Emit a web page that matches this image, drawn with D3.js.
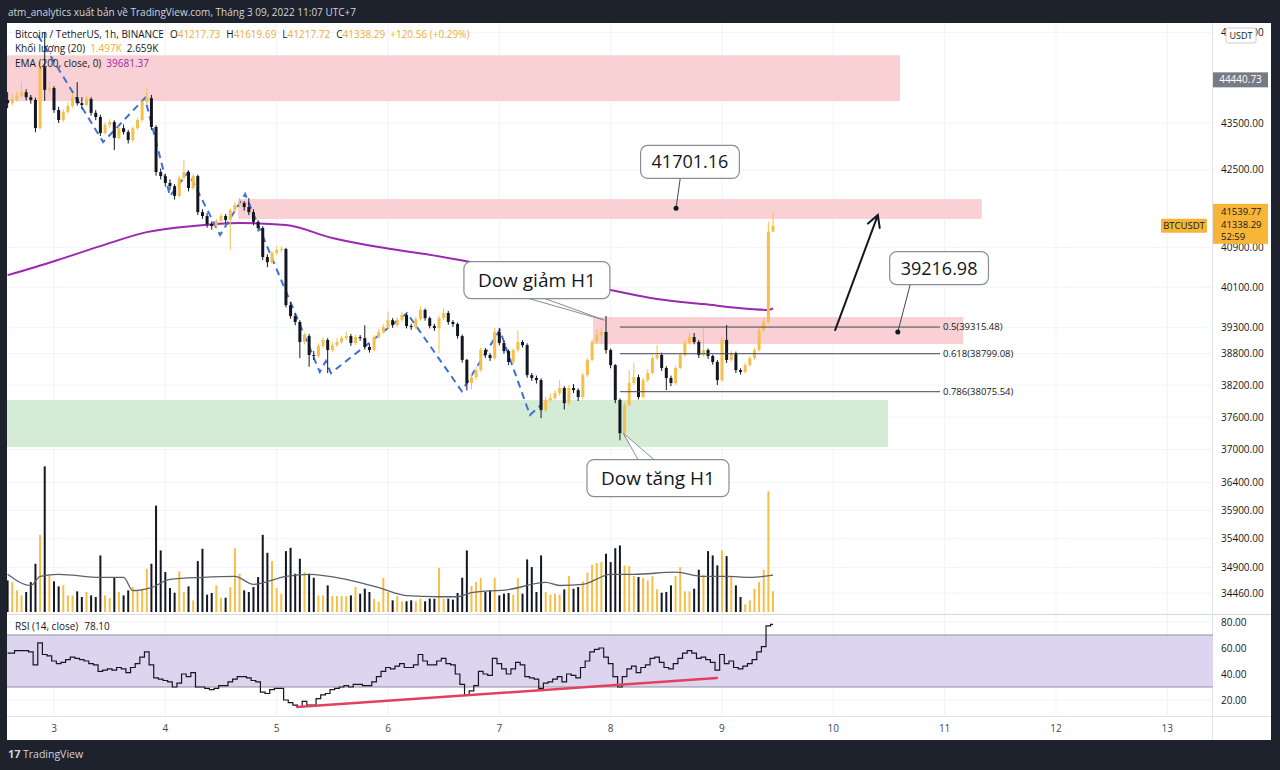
<!DOCTYPE html>
<html>
<head>
<meta charset="utf-8">
<script src="https://cdn.jsdelivr.net/npm/d3@7"></script>
<style>
  body { margin: 0; background: #1e222d; }
  svg { display: block; font-family: "Open Sans", "Noto Sans", sans-serif; }
</style>
</head>
<body>
<svg id="chart" width="1280" height="770"></svg>
<script>
// BTCUSDT 1h candles, Mar 2 14:00 -> Mar 9 11:00 (UTC+7)
const firstOpen = 44000;
const closes = [
  43930, 44020, 44090, 44170, 44060, 44000, 43390, 44720, 44220, 44260,
  43780, 43565, 43740, 43870, 44060, 43930, 43890, 44020, 43720, 43630,
  43285, 43460, 43520, 43180, 43390, 43305, 43135, 43390, 43565, 43955,
  44040, 43415, 42455, 42370, 42225, 42160, 41955, 42330, 42455, 42120,
  42370, 41620, 41540, 41375, 41335, 41440, 41540, 41460, 41660, 41765,
  41810, 41725, 41620, 41420, 41295, 40705, 40600, 40785, 40845, 40865,
  39745, 39530, 39415, 39025, 39140, 38775, 38755, 38945, 39063, 38870,
  38965, 39025, 39100, 39140, 39005, 39120, 39100, 38930, 38870, 39120,
  39220, 39315, 39450, 39355, 39450, 39550, 39335, 39315, 39470, 39650,
  39490, 39335, 39295, 39490, 39590, 39415, 39375, 39140, 38680, 38240,
  38350, 38485, 38870, 38775, 38715, 39220, 39005, 38850, 38640, 38870,
  39025, 38965, 38390, 38335, 38295, 37730, 37920, 37955, 38050, 38145,
  37860, 38145, 38105, 37975, 38390, 38680, 39025, 39160, 39220, 38870,
  38580, 37920, 37300, 37825, 38240, 38350, 37975, 38295, 38430, 38715,
  38775, 38525, 38335, 38240, 38525, 38775, 39005, 39120, 39025, 38775,
  38870, 38755, 38640, 38295, 39065, 38680, 38810, 38485, 38450, 38580,
  38715, 38870, 39257, 39415, 41217.73, 41338.29
];
const highs = [
  44170, 44120, 44200, 44400, 44230, 44110, 44050, 44830, 45510, 44400,
  44300, 43850, 43800, 43950, 44150, 44390, 44060, 44080, 44060, 43780,
  43680, 43510, 43580, 43560, 43440, 43470, 43350, 43420, 43610, 44000,
  44260, 44110, 43450, 42530, 42420, 42300, 42200, 42380, 42710, 42490,
  42420, 42400, 41680, 41600, 41430, 41480, 41600, 41580, 41700, 41830,
  41910, 41850, 41910, 41680, 41460, 41330, 40760, 40830, 40930, 40920,
  40890, 39800, 39580, 39450, 39200, 39180, 38850, 39000, 39120, 39100,
  39030, 39100, 39150, 39220, 39180, 39170, 39160, 39350, 38990, 39160,
  39280, 39370, 39620, 39490, 39500, 39620, 39580, 39380, 39520, 39720,
  39680, 39520, 39380, 39540, 39680, 39630, 39450, 39400, 39170, 38700,
  38420, 38550, 38920, 38910, 38810, 39300, 39300, 39050, 38880, 38900,
  39250, 39060, 39000, 38430, 38380, 38330, 37980, 38040, 38100, 38290,
  38180, 38200, 38220, 38140, 38430, 38720, 39080, 39260, 39300, 39530,
  38900, 38600, 37950, 37880, 38480, 38620, 38400, 38340, 38500, 38770,
  38960, 38820, 38560, 38380, 38570, 38820, 39060, 39200, 39200, 39060,
  39280, 38900, 38780, 38680, 39120, 39355, 38860, 38840, 38520, 38620,
  38750, 38920, 39300, 39500, 41420, 41619.69
];
const lows = [
  43820, 43880, 43960, 44050, 43990, 43920, 43300, 43360, 43980, 44150,
  43720, 43500, 43520, 43700, 43830, 43880, 43800, 43860, 43660, 43560,
  43220, 43250, 43400, 42920, 43150, 43250, 43060, 43100, 43350, 43530,
  43900, 43350, 42380, 42300, 42150, 42080, 41880, 41920, 42300, 42050,
  42080, 41560, 41480, 41300, 41260, 41280, 41400, 41400, 40845, 41620,
  41720, 41650, 41560, 41350, 41220, 40640, 40500, 40560, 40750, 40800,
  39700, 39480, 39350, 38715, 38980, 38550, 38680, 38720, 38900, 38430,
  38830, 38930, 38990, 39060, 38950, 38970, 39050, 38880, 38820, 38840,
  39090, 39190, 39280, 39300, 39320, 39420, 39290, 39260, 39280, 39440,
  39440, 39290, 39240, 38810, 39450, 39360, 39320, 39090, 38630, 38100,
  38120, 38300, 38450, 38720, 38660, 38690, 38960, 38800, 38580, 38600,
  38830, 38920, 38340, 38280, 38230, 37580, 37700, 37880, 37920, 38000,
  37740, 37820, 38050, 37900, 37940, 38350, 38650, 38980, 39000, 38800,
  38520, 37860, 37170, 37220, 37800, 38200, 37930, 37950, 38250, 38400,
  38680, 38470, 38106, 38180, 38200, 38500, 38740, 38980, 38980, 38720,
  38740, 38700, 38590, 38200, 38260, 38620, 38640, 38430, 38400, 38420,
  38550, 38680, 38840, 39220, 39380, 41217.72
];
// volume in thousands of BTC
const volumes = [
  2.28, 2.16, 1.56, 1.20, 1.44, 2.16, 3.48, 5.56, 10.5, 2.64,
  2.21, 1.85, 1.92, 1.20, 1.20, 1.49, 1.08, 1.44, 1.20, 1.08,
  4.08, 1.20, 1.01, 2.45, 1.44, 1.20, 1.56, 1.80, 1.49, 1.68,
  3.12, 3.48, 7.67, 4.44, 2.88, 1.73, 1.39, 2.93, 1.44, 1.85,
  0.84, 3.67, 4.56, 1.25, 1.37, 1.92, 1.03, 1.03, 1.80, 4.60,
  2.76, 1.56, 1.44, 1.80, 2.52, 5.56, 4.27, 3.67, 1.73, 1.32,
  4.39, 4.63, 2.76, 3.84, 2.88, 2.76, 2.47, 1.20, 1.20, 1.92,
  1.15, 1.15, 1.15, 1.15, 1.20, 1.80, 1.32, 1.68, 1.44, 0.96,
  0.72, 2.45, 1.44, 0.84, 1.15, 0.77, 0.77, 0.84, 0.77, 0.96,
  0.77, 0.96, 0.96, 3.19, 0.96, 0.96, 0.89, 1.37, 2.47, 4.44,
  1.87, 2.16, 2.45, 1.44, 1.56, 2.47, 1.20, 1.32, 1.37, 1.25,
  2.45, 1.32, 3.79, 3.24, 1.44, 4.08, 1.44, 1.25, 1.32, 1.25,
  1.63, 2.59, 1.68, 1.80, 2.21, 2.83, 3.41, 3.53, 3.60, 4.20,
  3.60, 4.60, 4.80, 3.36, 3.31, 2.59, 2.52, 2.45, 2.28, 2.59,
  1.63, 1.39, 1.44, 1.92, 2.59, 3.24, 1.49, 1.49, 1.68, 3.05,
  2.69, 4.39, 4.08, 3.36, 4.44, 4.03, 2.52, 1.92, 1.08, 0.55,
  0.84, 1.68, 2.16, 3.05, 8.70, 1.497
];
const rsiValues = [
  56, 56, 58, 58, 58, 57, 47, 64, 55, 54,
  50, 48, 49, 51, 53, 52, 51, 50, 48, 47,
  42, 43, 44, 43, 45, 44, 41, 45, 48, 53,
  57, 47, 37, 36, 35, 34, 30, 33, 40, 38,
  41, 30, 30, 29, 28, 29, 31, 31, 34, 36,
  38, 38, 37, 35, 34, 26, 25, 28, 29, 29,
  20, 18, 16, 15, 19, 16, 16, 21, 24, 25,
  28, 29, 30, 31, 30, 32, 32, 31, 31, 34,
  38, 42, 45, 44, 46, 48, 45, 45, 47, 55,
  50, 47, 47, 50, 52, 48, 47, 40, 32, 24,
  27, 31, 42, 40, 39, 52, 48, 44, 40, 44,
  49, 47, 38, 37, 36, 29, 33, 34, 36, 38,
  34, 40, 39, 37, 45, 50, 57, 59, 60, 53,
  48, 38, 30, 38, 44, 46, 41, 45, 47, 52,
  53, 49, 45, 44, 48, 52, 56, 58, 56, 52,
  53, 51, 49, 43, 55, 48, 50, 45, 44, 46,
  48, 51, 57, 61, 77, 78.10
];
// EMA 200 and volume MA 20, sampled at candle indexes
const emaIdx = [0, 10, 20, 30, 40, 50, 60, 70, 80, 90, 100, 110, 120, 130, 140, 150, 160, 164, 165];
const emaVal = [40340, 40620, 40925, 41210, 41335, 41395, 41355, 41090, 40905, 40765,
  40600, 40420, 40240, 40045, 39865, 39765, 39670, 39650, 39681.37];
const volMaIdx = [0, 5, 7, 11, 20, 25, 27, 31, 35, 42, 49, 53, 60, 65, 73, 80, 86, 93,
  97, 100, 108, 116, 119, 124, 130, 135, 144, 150, 155, 160, 163, 165];
const volMaVal = [2.72, 1.91, 2.57, 2.72, 2.50, 2.50, 1.54, 1.76, 2.35, 2.50, 2.57, 1.99,
  2.57, 2.72, 2.35, 1.76, 1.18, 1.10, 1.10, 1.40, 1.62, 2.13, 1.91, 1.99, 2.72, 2.72,
  2.87, 2.57, 2.57, 2.50, 2.57, 2.659];

// price axis and time axis labels
const priceTicks = [45500, 43500, 42500, 40900, 40100, 39300, 38800, 38200, 37600,
  37000, 36400, 35900, 35400, 34900, 34460];
const rsiTicks = [80, 60, 40, 20];
const dayLabels = ["3", "4", "5", "6", "7", "8", "9", "10", "11", "12", "13"];

// drawings: hours are counted from Mar 3 00:00
const zones = [
  { from: -60, to: 182.4, hi: 44985, lo: 43975, kind: "supply" },
  { from: 39.7, to: 200, hi: 41890, lo: 41480, kind: "supply" },
  { from: 116.2, to: 196, hi: 39511, lo: 38986, kind: "supply" },
  { from: -60, to: 179.8, hi: 37918, lo: 37045, kind: "demand" }
];
const fibRatios = ["0.5", "0.618", "0.786"];
const fibPrices = [39315.48, 38799.08, 38075.54];
const fibSpan = [122, 191];
const zigHours = [-3.4, 10.6, 19.6, 25.0, 28.9, 35.8, 41.2, 57.3, 58.6, 59.7, 76.1, 87.9, 96.1, 102.6, 105.2];
const zigPrices = [45420, 43092, 44043, 41953, 42456, 41150, 41995, 38448, 38659, 38429, 39589, 38087, 39257, 37637, 37843];
const rsiTrend = { hours: [52.4, 142.9], values: [14.6, 36.9] };
const arrowPts = { hours: [168.4, 177.6], prices: [39257, 41560] };
const callouts = [
  { text: "41701.16", h: 137.1, price: 42668, target: { h: 134.1, price: 41701.16 }, type: "dot" },
  { text: "39216.98", h: 190.8, price: 40482, target: { h: 181.9, price: 39216.98 }, type: "dot" },
  { text: "Dow giảm H1", h: 104.1, price: 40242, target: { h: 118.6, price: 39452 }, type: "wedge" },
  { text: "Dow tăng H1", h: 130.2, price: 36480, target: { h: 122.7, price: 37302 }, type: "wedge" }
];

const W = 1280, H = 770;
const pane = { left: 7, right: 1213, top: 23, bottom: 614 };
const rsiPane = { top: 615, bottom: 716 };
const HOUR = 3600e3;
const base = Date.UTC(2022, 2, 3);
const upColor = "#f6bf49";
const downColor = "#131722";
const legendOrange = "#f0ad33";
const labelOrange = "#f7b538";
const textDark = "#131722";

const atHour = h => new Date(base + h * HOUR);
const candleTime = i => atHour(i - 10);

const x = d3.scaleUtc().domain([atHour(0), atHour(240)]).range([54, 1167.3]);
const y = d3.scaleLog().domain([34460, 43500]).range([593, 123]);
const yVol = d3.scaleLinear().domain([0, 10.6]).range([612, 465]);
const yRsi = d3.scaleLinear().domain([20, 80]).range([700, 622]);

const svg = d3.select("#chart");

svg.append("rect").attr("width", W).attr("height", H).attr("fill", "#1e222d");
svg.append("rect").attr("x", 7).attr("y", 23).attr("width", 1264).attr("height", 717).attr("fill", "#ffffff");

const defs = svg.append("defs");
defs.append("clipPath").attr("id", "clipMain").append("rect")
  .attr("x", pane.left).attr("y", pane.top).attr("width", pane.right - pane.left).attr("height", pane.bottom - pane.top);
defs.append("clipPath").attr("id", "clipRsi").append("rect")
  .attr("x", pane.left).attr("y", rsiPane.top).attr("width", pane.right - pane.left).attr("height", rsiPane.bottom - rsiPane.top);

// title bar
svg.append("text").attr("x", 8).attr("y", 16).attr("font-size", 10).attr("fill", "#d1d4dc")
  .text("atm_analytics xuất bản về TradingView.com, Tháng 3 09, 2022 11:07 UTC+7");

// grid
const days = d3.utcDay.range(atHour(0), atHour(241));
const grid = svg.append("g");
grid.selectAll("line.v").data(days).enter().append("line")
  .attr("x1", d => x(d)).attr("x2", d => x(d)).attr("y1", pane.top).attr("y2", rsiPane.bottom)
  .attr("stroke", "#f0f3fa");
grid.selectAll("line.h").data(priceTicks).enter().append("line")
  .attr("x1", pane.left).attr("x2", pane.right).attr("y1", d => y(d)).attr("y2", d => y(d))
  .attr("stroke", "#f0f3fa");
grid.selectAll("line.r").data(rsiTicks).enter().append("line")
  .attr("x1", pane.left).attr("x2", pane.right).attr("y1", d => yRsi(d)).attr("y2", d => yRsi(d))
  .attr("stroke", "#f0f3fa");

// main pane
const main = svg.append("g").attr("clip-path", "url(#clipMain)");

main.selectAll("rect.zone").data(zones).enter().append("rect")
  .attr("x", d => x(atHour(d.from))).attr("width", d => x(atHour(d.to)) - x(atHour(d.from)))
  .attr("y", d => y(d.hi)).attr("height", d => y(d.lo) - y(d.hi))
  .attr("fill", d => d.kind === "supply" ? "#f9d0d4" : "#d4ebd6");

// EMA 200
main.append("path")
  .datum(emaIdx.map((d, k) => [candleTime(d), emaVal[k]]))
  .attr("fill", "none").attr("stroke", "#9c27b0").attr("stroke-width", 2)
  .attr("d", d3.line().x(d => x(d[0])).y(d => y(d[1])).curve(d3.curveMonotoneX));

// Dow zig-zag
main.append("path")
  .datum(zigHours.map((h, k) => [atHour(h), zigPrices[k]]))
  .attr("fill", "none").attr("stroke", "#3e6fd8").attr("stroke-width", 2)
  .attr("stroke-dasharray", "7,5")
  .attr("d", d3.line().x(d => x(d[0])).y(d => y(d[1])));

// volume
const candles = closes.map((c, i) => ({
  t: candleTime(i), o: i === 0 ? firstOpen : closes[i - 1], c, h: highs[i], l: lows[i], v: volumes[i]
}));
main.selectAll("rect.vol").data(candles).enter().append("rect")
  .attr("x", d => x(d.t) - 1).attr("width", 2)
  .attr("y", d => yVol(d.v)).attr("height", d => yVol(0) - yVol(d.v))
  .attr("fill", d => d.c >= d.o ? upColor : downColor);
main.append("path")
  .datum(volMaIdx.map((d, k) => [candleTime(d), volMaVal[k]]))
  .attr("fill", "none").attr("stroke", "#5d606b").attr("stroke-width", 1.3)
  .attr("d", d3.line().x(d => x(d[0])).y(d => yVol(d[1])).curve(d3.curveMonotoneX));

// candles
const cg = main.append("g");
cg.selectAll("line.wick").data(candles).enter().append("line")
  .attr("x1", d => x(d.t)).attr("x2", d => x(d.t))
  .attr("y1", d => y(d.h)).attr("y2", d => y(d.l))
  .attr("stroke", d => d.c >= d.o ? upColor : downColor).attr("stroke-width", 1);
cg.selectAll("rect.body").data(candles).enter().append("rect")
  .attr("x", d => x(d.t) - 1.5).attr("width", 3)
  .attr("y", d => y(Math.max(d.o, d.c)))
  .attr("height", d => Math.max(1, Math.abs(y(d.o) - y(d.c))))
  .attr("fill", d => d.c >= d.o ? upColor : downColor);

// fibonacci levels
const fx1 = x(atHour(fibSpan[0])), fx2 = x(atHour(fibSpan[1]));
fibPrices.forEach((p, k) => {
  main.append("line").attr("x1", fx1).attr("x2", fx2).attr("y1", y(p)).attr("y2", y(p))
    .attr("stroke", "#434651").attr("stroke-width", 1);
  main.append("text").attr("x", fx2 + 3).attr("y", y(p)).attr("dy", "0.35em")
    .attr("font-size", 9.5).attr("fill", textDark).text(`${fibRatios[k]}(${p.toFixed(2)})`);
});

// arrow
const ax1 = x(atHour(arrowPts.hours[0])), ay1 = y(arrowPts.prices[0]);
const ax2 = x(atHour(arrowPts.hours[1])), ay2 = y(arrowPts.prices[1]);
const ang = Math.atan2(ay2 - ay1, ax2 - ax1);
main.append("path")
  .attr("d", `M${ax1},${ay1}L${ax2},${ay2}` +
    `M${ax2 - 13 * Math.cos(ang - 0.5)},${ay2 - 13 * Math.sin(ang - 0.5)}L${ax2},${ay2}` +
    `L${ax2 - 13 * Math.cos(ang + 0.5)},${ay2 - 13 * Math.sin(ang + 0.5)}`)
  .attr("fill", "none").attr("stroke", textDark).attr("stroke-width", 2).attr("stroke-linecap", "round");

// callouts
callouts.forEach(c => {
  const g = main.append("g");
  const isDow = c.type === "wedge";
  const cx = x(atHour(c.h)), cy = y(c.price);
  const tx = x(atHour(c.target.h)), ty = y(c.target.price);
  const t = g.append("text").attr("x", cx).attr("y", cy).attr("dy", "0.36em")
    .attr("text-anchor", "middle").attr("font-size", isDow ? 19 : 18).attr("fill", textDark).text(c.text);
  const w = t.node().getComputedTextLength() + (isDow ? 28 : 22), h = isDow ? 37 : 33;
  const top = cy - h / 2, bottom = cy + h / 2;
  if (!isDow) {
    const by = ty > cy ? bottom : top;
    const bx = Math.max(cx - w / 2 + 8, Math.min(cx + w / 2 - 8, tx + (cx - tx) * 0.3));
    g.insert("line", "text").attr("x1", bx).attr("y1", by).attr("x2", tx).attr("y2", ty)
      .attr("stroke", "#434651").attr("stroke-width", 1);
    g.append("circle").attr("cx", tx).attr("cy", ty).attr("r", 2.5).attr("fill", textDark);
  } else {
    const by = ty > cy ? bottom : top;
    const bx = tx > cx ? cx : cx - 12;
    g.insert("path", "text").attr("d", `M${bx - 8},${by}L${tx},${ty}L${bx + 8},${by}`)
      .attr("fill", "#ffffff").attr("stroke", "#8a8d96").attr("stroke-width", 1);
  }
  g.insert("rect", "text").attr("x", cx - w / 2).attr("y", top).attr("width", w).attr("height", h)
    .attr("rx", 7).attr("fill", "#ffffff").attr("stroke", "#8a8d96").attr("stroke-width", 1.2);
});

// legend
const legend = svg.append("text").attr("x", 15).attr("y", 38).attr("font-size", 10).attr("fill", textDark);
legend.append("tspan").text("Bitcoin / TetherUS, 1h, BINANCE");
[["O", "41217.73"], ["H", "41619.69"], ["L", "41217.72"], ["C", "41338.29"]].forEach(([k, v]) => {
  legend.append("tspan").attr("dx", 6).text(k);
  legend.append("tspan").attr("fill", legendOrange).text(v);
});
legend.append("tspan").attr("dx", 5).attr("fill", legendOrange).text("+120.56 (+0.29%)");
const legVol = svg.append("text").attr("x", 15).attr("y", 52).attr("font-size", 10).attr("fill", textDark);
legVol.append("tspan").text("Khối lượng (20)");
legVol.append("tspan").attr("dx", 5).attr("fill", legendOrange).text("1.497K");
legVol.append("tspan").attr("dx", 5).text("2.659K");
const legEma = svg.append("text").attr("x", 15).attr("y", 67).attr("font-size", 10).attr("fill", textDark);
legEma.append("tspan").text("EMA (200, close, 0)");
legEma.append("tspan").attr("dx", 5).attr("fill", "#9c27b0").text("39681.37");

// pane separators and right axis border
svg.append("line").attr("x1", 7).attr("x2", 1271).attr("y1", 614.5).attr("y2", 614.5).attr("stroke", "#d6d8de");
svg.append("line").attr("x1", 7).attr("x2", 1271).attr("y1", 716.5).attr("y2", 716.5).attr("stroke", "#e0e3eb");
svg.append("line").attr("x1", 1212.5).attr("x2", 1212.5).attr("y1", 23).attr("y2", 740).attr("stroke", "#e0e3eb");

// RSI pane
const rsiG = svg.append("g").attr("clip-path", "url(#clipRsi)");
rsiG.append("rect").attr("x", pane.left).attr("width", pane.right - pane.left)
  .attr("y", yRsi(70)).attr("height", yRsi(30) - yRsi(70)).attr("fill", "#ddd5f0");
[70, 30].forEach(v => rsiG.append("line").attr("x1", pane.left).attr("x2", pane.right)
  .attr("y1", yRsi(v)).attr("y2", yRsi(v)).attr("stroke", "#8f8f9c").attr("stroke-width", 1));
rsiG.append("path")
  .datum(rsiValues.map((v, i) => [candleTime(i), v]))
  .attr("fill", "none").attr("stroke", textDark).attr("stroke-width", 1.2)
  .attr("d", d3.line().x(d => x(d[0])).y(d => yRsi(d[1])).curve(d3.curveStep));
rsiG.append("line")
  .attr("x1", x(atHour(rsiTrend.hours[0]))).attr("y1", yRsi(rsiTrend.values[0]))
  .attr("x2", x(atHour(rsiTrend.hours[1]))).attr("y2", yRsi(rsiTrend.values[1]))
  .attr("stroke", "#e3405f").attr("stroke-width", 2.5).attr("stroke-linecap", "round");
svg.append("text").attr("x", 15).attr("y", 630).attr("font-size", 10).attr("fill", textDark)
  .text("RSI (14, close)")
  .append("tspan").attr("dx", 6).text("78.10");

// price axis (the top tick is partly hidden behind the currency badge, as on the screenshot)
svg.selectAll("text.ptick").data(priceTicks).enter().append("text")
  .attr("x", 1221).attr("y", d => y(d)).attr("dy", "0.35em")
  .attr("font-size", 10).attr("fill", textDark).text(d => d.toFixed(2));
svg.selectAll("text.rtick").data(rsiTicks).enter().append("text")
  .attr("x", 1221).attr("y", d => yRsi(d)).attr("dy", "0.35em")
  .attr("font-size", 10).attr("fill", textDark).text(d => d.toFixed(2));

// time axis
svg.selectAll("text.day").data(days).enter().append("text")
  .attr("x", d => x(d)).attr("y", 732).attr("text-anchor", "middle")
  .attr("font-size", 10).attr("fill", "#434651").text((d, i) => dayLabels[i]);

// price labels on the axis
const usdt = svg.append("g");
usdt.append("rect").attr("x", 1226).attr("y", 28).attr("width", 30).attr("height", 15).attr("rx", 2)
  .attr("fill", "#ffffff").attr("stroke", "#c9ccd4");
usdt.append("text").attr("x", 1241).attr("y", 36).attr("dy", "0.35em").attr("text-anchor", "middle")
  .attr("font-size", 9).attr("fill", textDark).text("USDT");

const zoneLabelY = y(44440.73);
svg.append("rect").attr("x", 1213).attr("y", zoneLabelY - 7.5).attr("width", 55).attr("height", 15)
  .attr("fill", "#787b86");
svg.append("text").attr("x", 1240.5).attr("y", zoneLabelY).attr("dy", "0.35em").attr("text-anchor", "middle")
  .attr("font-size", 10).attr("fill", "#ffffff").text("44440.73");

const lastY = y(closes[closes.length - 1]);
svg.append("rect").attr("x", 1213).attr("y", lastY - 22).attr("width", 55).attr("height", 40)
  .attr("fill", labelOrange);
["41539.77", "41338.29", "52:59"].forEach((s, k) => {
  svg.append("text").attr("x", 1221).attr("y", lastY - 14 + k * 12.5).attr("dy", "0.35em")
    .attr("font-size", 9.5).attr("fill", textDark).text(s);
});
svg.append("rect").attr("x", 1161).attr("y", lastY - 7).attr("width", 46).attr("height", 14).attr("rx", 1)
  .attr("fill", labelOrange);
svg.append("text").attr("x", 1184).attr("y", lastY).attr("dy", "0.35em").attr("text-anchor", "middle")
  .attr("font-size", 9.5).attr("fill", textDark).text("BTCUSDT");

// footer
const foot = svg.append("g").attr("transform", "translate(8,754)");
foot.append("text").attr("x", 0).attr("y", 0).attr("dy", "0.35em").attr("font-size", 11)
  .attr("font-weight", "bold").attr("fill", "#d1d4dc").text("17");
foot.append("text").attr("x", 15).attr("y", 0).attr("dy", "0.35em").attr("font-size", 10.5)
  .attr("fill", "#d1d4dc").text("TradingView");
</script>
</body>
</html>
